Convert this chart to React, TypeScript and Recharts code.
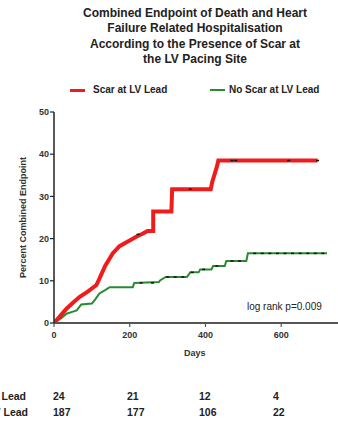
import { ComposedChart, Line, Scatter, XAxis, YAxis } from "recharts";

// Kaplan-Meier style curves (days, percent)
const scarDays = [0, 15, 33, 50, 68, 90, 112, 120, 135, 155, 173, 195, 216, 235, 247, 262, 262, 310, 312, 414, 418, 425, 430, 434, 696];
const scarPct = [0, 1.5, 3.4, 4.8, 6.2, 7.5, 9, 10.5, 13.5, 16.5, 18.2, 19.3, 20.4, 21.2, 21.8, 21.8, 26.4, 26.4, 31.7, 31.7, 33.5, 35.5, 37, 38.5, 38.5];

const noScarDays = [0, 20, 33, 50, 60, 72, 100, 108, 120, 135, 147, 208, 212, 277, 280, 295, 351, 360, 382, 386, 416, 420, 451, 455, 508, 512, 721];
const noScarPct = [0, 1.2, 2.2, 2.7, 3.0, 4.4, 4.6, 5.5, 7.0, 7.8, 8.5, 8.5, 9.5, 9.7, 10.1, 10.9, 10.9, 12.0, 12.0, 12.7, 12.7, 13.5, 13.5, 14.7, 14.7, 16.5, 16.5];

// censor marks
const scarCensorDays = [222, 360, 470, 480, 620, 696];
const scarCensorPct = [21.0, 31.7, 38.5, 38.5, 38.5, 38.5];
const noScarCensorDays = [230, 260, 300, 320, 340, 365, 395, 430, 470, 490, 530, 550, 570, 590, 610, 630, 650, 670, 690, 710];
const noScarCensorPct = [9.5, 9.5, 10.9, 10.9, 10.9, 12.0, 12.7, 13.5, 14.7, 14.7, 16.5, 16.5, 16.5, 16.5, 16.5, 16.5, 16.5, 16.5, 16.5, 16.5];

const xTicks = [0, 200, 400, 600];
const yTicks = [0, 10, 20, 30, 40, 50];

const riskLabels = ["Scar at LV Lead", "No Scar at LV Lead"];
const scarAtRisk = [24, 21, 12, 4];
const noScarAtRisk = [187, 177, 106, 22];
const riskX = [53, 127, 199, 273];

const titleLines = [
  "Combined Endpoint of Death and Heart",
  "Failure Related Hospitalisation",
  "According to the Presence of Scar at",
  "the LV Pacing Site",
];

const RED = "#f01c1c";
const GREEN = "#2a8a32";
const FONT = "'Liberation Sans', Arial, sans-serif";

const zip = (xs: number[], ys: number[]) => xs.map((x, i) => ({ x, y: ys[i] }));

const scarData = zip(scarDays, scarPct);
const noScarData = zip(noScarDays, noScarPct);
const censorData = [...zip(scarCensorDays, scarCensorPct), ...zip(noScarCensorDays, noScarCensorPct)];

const tickStyle = { fill: "#333", fontSize: 9, fontWeight: 700, fontFamily: FONT };

const CensorMark = (props: any) => (
  <rect x={props.cx - 1.5} y={props.cy - 0.75} width={3} height={1.5} fill="#111" />
);

export default function App() {
  return (
    <div
      style={{
        position: "absolute",
        left: 0,
        top: 0,
        width: 338,
        height: 421,
        overflow: "hidden",
        background: "#fff",
        fontFamily: FONT,
        color: "#222",
      }}
    >
      {/* Title */}
      <div
        style={{
          position: "absolute",
          left: 52,
          width: 286,
          top: 6,
          textAlign: "center",
          fontSize: 12,
          fontWeight: 700,
          lineHeight: "15.3px",
        }}
      >
        {titleLines.map((t) => (
          <div key={t}>{t}</div>
        ))}
      </div>

      {/* Legend */}
      <div style={{ position: "absolute", left: 70, top: 88.5, width: 15, height: 3, background: RED }} />
      <div style={{ position: "absolute", left: 93, top: 83, fontSize: 10, fontWeight: 700, lineHeight: "14px" }}>
        Scar at LV Lead
      </div>
      <div style={{ position: "absolute", left: 210, top: 89, width: 15, height: 2, background: GREEN }} />
      <div style={{ position: "absolute", left: 229, top: 83, fontSize: 10, fontWeight: 700, lineHeight: "14px" }}>
        No Scar at LV Lead
      </div>

      <ComposedChart width={338} height={421} margin={{ top: 112, right: 0, bottom: 68, left: 0 }}>
        <XAxis
          type="number"
          dataKey="x"
          domain={[0, 750]}
          ticks={xTicks}
          allowDataOverflow
          height={30}
          tickSize={4}
          tickMargin={5}
          tick={tickStyle}
          axisLine={{ stroke: "#555", strokeWidth: 2 }}
          tickLine={{ stroke: "#555", strokeWidth: 1.2 }}
        />
        <YAxis
          type="number"
          dataKey="y"
          domain={[0, 50]}
          ticks={yTicks}
          width={54}
          tickSize={4}
          tickMargin={1}
          tick={tickStyle}
          axisLine={{ stroke: "#222", strokeWidth: 1.5 }}
          tickLine={{ stroke: "#222", strokeWidth: 1.2 }}
          label={{
            value: "Percent Combined Endpoint",
            angle: -90,
            position: "insideLeft",
            offset: 23,
            style: { fill: "#333", fontSize: 9, fontWeight: 700, fontFamily: FONT, textAnchor: "middle" },
          }}
        />
        <Line
          data={noScarData}
          dataKey="y"
          type="linear"
          stroke={GREEN}
          strokeWidth={2}
          dot={false}
          isAnimationActive={false}
        />
        <Line
          data={scarData}
          dataKey="y"
          type="linear"
          stroke={RED}
          strokeWidth={4}
          dot={false}
          isAnimationActive={false}
        />
        <Scatter data={censorData} dataKey="y" shape={<CensorMark />} isAnimationActive={false} />
      </ComposedChart>

      <div
        style={{
          position: "absolute",
          left: 247,
          top: 301,
          fontSize: 10,
          color: "#222",
          lineHeight: "12px",
          whiteSpace: "nowrap",
        }}
      >
        log rank p=0.009
      </div>

      <div
        style={{
          position: "absolute",
          left: 184,
          top: 347,
          fontSize: 9,
          fontWeight: 700,
          color: "#333",
          lineHeight: "12px",
        }}
      >
        Days
      </div>

      {/* Numbers at risk (row labels run off the left edge, as in the source) */}
      {[scarAtRisk, noScarAtRisk].map((row, r) => (
        <div key={r}>
          <div
            style={{
              position: "absolute",
              right: 338 - (r === 0 ? 26 : 28),
              top: 390 + r * 16,
              fontSize: 10.5,
              fontWeight: 700,
              lineHeight: "13px",
              whiteSpace: "nowrap",
            }}
          >
            {riskLabels[r]}
          </div>
          {row.map((n, i) => (
            <div
              key={i}
              style={{
                position: "absolute",
                left: riskX[i],
                top: 390 + r * 16,
                fontSize: 10.5,
                fontWeight: 700,
                lineHeight: "13px",
              }}
            >
              {n}
            </div>
          ))}
        </div>
      ))}
    </div>
  );
}
